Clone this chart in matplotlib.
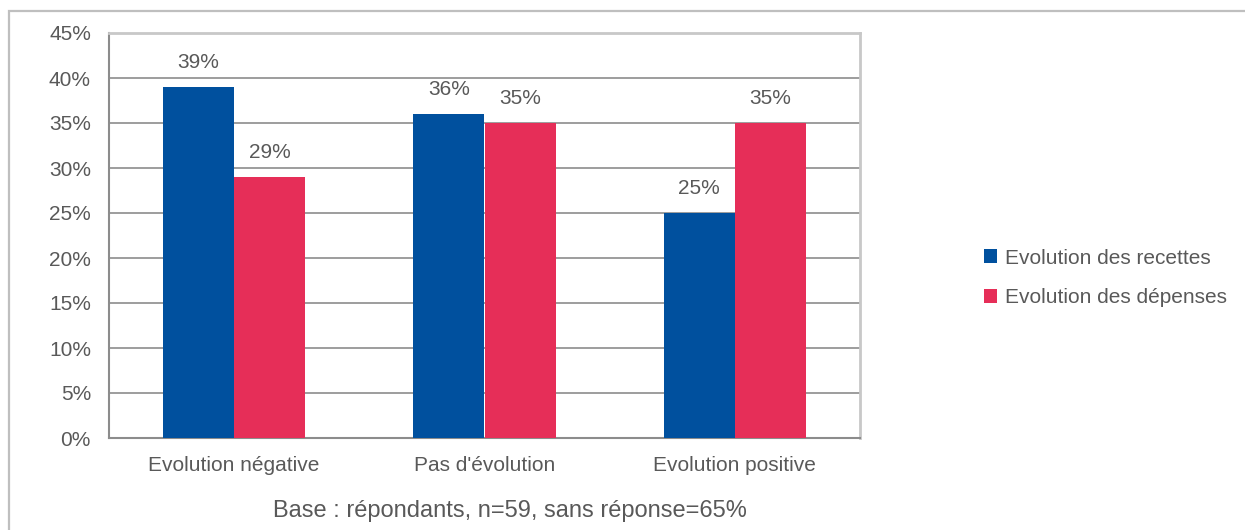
import numpy as np
import matplotlib
matplotlib.use("Agg")
import matplotlib.pyplot as plt
from matplotlib.patches import Rectangle

categories = ["Evolution négative", "Pas d'évolution", "Evolution positive"]
recettes = [39, 36, 25]
depenses = [29, 35, 35]
series_labels = ["Evolution des recettes", "Evolution des dépenses"]
yticks = [0, 5, 10, 15, 20, 25, 30, 35, 40, 45]
note = "Base : répondants, n=59, sans réponse=65%"

BLUE = "#00509e"
RED = "#e62e58"
TEXT = "#595959"
FS = 15

plt.rcParams["font.family"] = ["Liberation Sans", "DejaVu Sans"]

fig = plt.figure(figsize=(12.45, 5.30), dpi=100)
ax = fig.add_axes([109 / 1245, 92 / 530, 751 / 1245, 405 / 530])

# outer frame around the chart
fig.add_artist(Rectangle((9 / 1245, -0.05), 1.2, 1.05 - 11 / 530,
                         transform=fig.transFigure, fill=False,
                         edgecolor="#bfbfbf", linewidth=1.6))

x = np.arange(len(categories))
w = 0.284
b1 = ax.bar(x - w / 2, recettes, w, color=BLUE, label=series_labels[0], zorder=3)
b2 = ax.bar(x + w / 2, depenses, w, color=RED, label=series_labels[1], zorder=3)

for bars, vals in ((b1, recettes), (b2, depenses)):
    for r, v in zip(bars, vals):
        ax.text(r.get_x() + r.get_width() / 2, v + 2.7, f"{v}%",
                ha="center", va="center", fontsize=FS, color=TEXT)

ax.set_xlim(-0.5, 2.5)
ax.set_ylim(0, 45)
ax.set_yticks(yticks)
ax.set_yticklabels([f"{t}%" for t in yticks])
ax.set_xticks(x)
ax.set_xticklabels(categories)
ax.tick_params(axis="both", labelsize=FS, labelcolor=TEXT, length=0, pad=13)
ax.yaxis.grid(True, color="#8c8c8c", linewidth=1.2, zorder=0)
ax.set_axisbelow(True)

for side in ("left", "bottom"):
    ax.spines[side].set_color("#8c8c8c")
    ax.spines[side].set_linewidth(1.5)
for side in ("top", "right"):
    ax.spines[side].set_color("#c8c8c8")
    ax.spines[side].set_linewidth(2)

ax.legend(loc="center left", bbox_to_anchor=(1.165, 0.395), frameon=False,
          fontsize=FS, labelcolor=TEXT, handlelength=0.65, handleheight=0.65,
          handletextpad=0.35, labelspacing=1.0, borderpad=0, borderaxespad=0)

fig.text(510 / 1245, 1 - 511 / 530, note, ha="center", va="center",
         fontsize=17, color=TEXT)

fig.savefig("out.png", dpi=100)
